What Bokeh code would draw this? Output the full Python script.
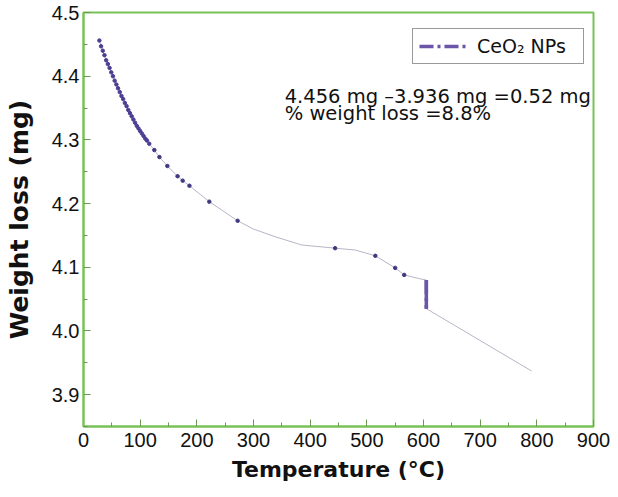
from bokeh.plotting import figure
from bokeh.models import (FixedTicker, Legend, LegendItem, Label,
                          PrintfTickFormatter)
from bokeh.embed import file_html
from bokeh.resources import INLINE

# ---- data ----
dense_temp = [28, 31, 34, 37, 40, 43, 46, 49, 52, 55, 58, 61, 64, 67, 70,
              73, 76, 79, 82, 85, 88, 91, 94, 97, 100, 103, 106, 109, 112, 116]
dense_weight = [4.456, 4.447, 4.440, 4.433, 4.425, 4.419, 4.413, 4.406, 4.400,
                4.393, 4.387, 4.381, 4.375, 4.369, 4.364, 4.358, 4.353, 4.347,
                4.342, 4.337, 4.332, 4.327, 4.322, 4.318, 4.314, 4.310, 4.306,
                4.302, 4.299, 4.294]

sparse_temp = [125, 134, 148, 166, 175, 187, 222, 272, 444, 515, 550, 566]
sparse_weight = [4.284, 4.273, 4.259, 4.243, 4.236, 4.228, 4.203, 4.173,
                 4.130, 4.118, 4.099, 4.088]

trace_temp = dense_temp + [125, 134, 148, 166, 175, 187, 222, 272, 300, 338,
                           385, 444, 480, 515, 550, 566, 593, 605, 605, 791]
trace_weight = dense_weight + [4.284, 4.273, 4.259, 4.243, 4.236, 4.228,
                               4.203, 4.173, 4.160, 4.148, 4.135, 4.130,
                               4.127, 4.118, 4.099, 4.088, 4.082, 4.080,
                               4.035, 3.937]

drop_temp = [605, 605]
drop_weight = [4.080, 4.035]

x_ticks = [0, 100, 200, 300, 400, 500, 600, 700, 800, 900]
x_minor = [50, 150, 250, 350, 450, 550, 650, 750, 850]
y_ticks = [3.9, 4.0, 4.1, 4.2, 4.3, 4.4, 4.5]
y_minor = [3.85, 3.95, 4.05, 4.15, 4.25, 4.35, 4.45]

legend_label = "CeO\u2082 NPs"
note_line1 = "4.456 mg \u20133.936 mg =0.52 mg"
note_line2 = "% weight loss =8.8%"

GREEN = "#78c257"
TICK = "#6b9a55"
PURPLE = "#6a55a8"

p = figure(width=610, height=489, x_range=(0, 900), y_range=(3.85, 4.5),
           output_backend="svg", toolbar_location=None,
           min_border_left=83, min_border_right=17,
           min_border_top=12, min_border_bottom=63)
p.background_fill_color = "white"
p.border_fill_color = "white"
p.xgrid.visible = False
p.ygrid.visible = False
p.outline_line_color = GREEN
p.outline_line_width = 2

p.xaxis.ticker = FixedTicker(ticks=x_ticks, minor_ticks=x_minor)
p.yaxis.ticker = FixedTicker(ticks=y_ticks, minor_ticks=y_minor)
p.xaxis.formatter = PrintfTickFormatter(format="%d")
p.yaxis.formatter = PrintfTickFormatter(format="%.1f")

for ax in (p.xaxis, p.yaxis):
    ax.axis_line_color = GREEN
    ax.axis_line_width = 2
    ax.major_tick_in = 7
    ax.major_tick_out = 0
    ax.minor_tick_in = 4
    ax.minor_tick_out = 0
    ax.major_tick_line_color = TICK
    ax.minor_tick_line_color = TICK
    ax.major_label_text_font = "Liberation Sans"
    ax.major_label_text_font_size = "20px"
    ax.major_label_text_color = "#111111"
    ax.axis_label_text_font = "DejaVu Sans"
    ax.axis_label_text_font_style = "bold"
    ax.axis_label_text_color = "#111111"

p.xaxis.axis_label_text_font_size = "22px"
p.yaxis.axis_label_text_font_size = "25px"
p.xaxis.axis_label = "Temperature (\u00b0C)"
p.yaxis.axis_label = "Weight loss (mg)"
p.xaxis.major_label_standoff = 6
p.xaxis.axis_label_standoff = 7
p.yaxis.major_label_standoff = 4
p.yaxis.axis_label_standoff = 15

p.line(trace_temp, trace_weight, line_color="#b9b4c6", line_width=1)
p.scatter(dense_temp, dense_weight, size=3.5, color="#4a3f93")
p.scatter(sparse_temp, sparse_weight, size=3.5, color="#3f3a80")
p.line(drop_temp, drop_weight, line_color=PURPLE, line_width=3.5)

# dash-dot renderer for the legend, drawn over the solid drop segment
legend_glyph = p.line(drop_temp, drop_weight, line_color=PURPLE,
                      line_width=3.5, line_dash="14 4 3 4")

legend = Legend(items=[LegendItem(label=legend_label,
                                  renderers=[legend_glyph])],
                location=(329, 362))
legend.label_text_font = "DejaVu Sans"
legend.label_text_font_size = "19px"
legend.label_text_color = "#111111"
legend.glyph_width = 48
legend.glyph_height = 16
legend.label_height = 16
legend.label_width = 100
legend.label_standoff = 10
legend.padding = 6
legend.margin = 0
legend.border_line_color = "#333333"
legend.border_line_width = 1
legend.background_fill_color = "white"
legend.background_fill_alpha = 1
p.add_layout(legend)

for txt, yv in ((note_line1, 4.368), (note_line2, 4.341)):
    p.add_layout(Label(x=355, y=yv, text=txt, text_font="DejaVu Sans",
                       text_font_size="19.5px", text_color="#111111",
                       text_baseline="alphabetic"))

open("out.html", "w").write(file_html(p, INLINE))
